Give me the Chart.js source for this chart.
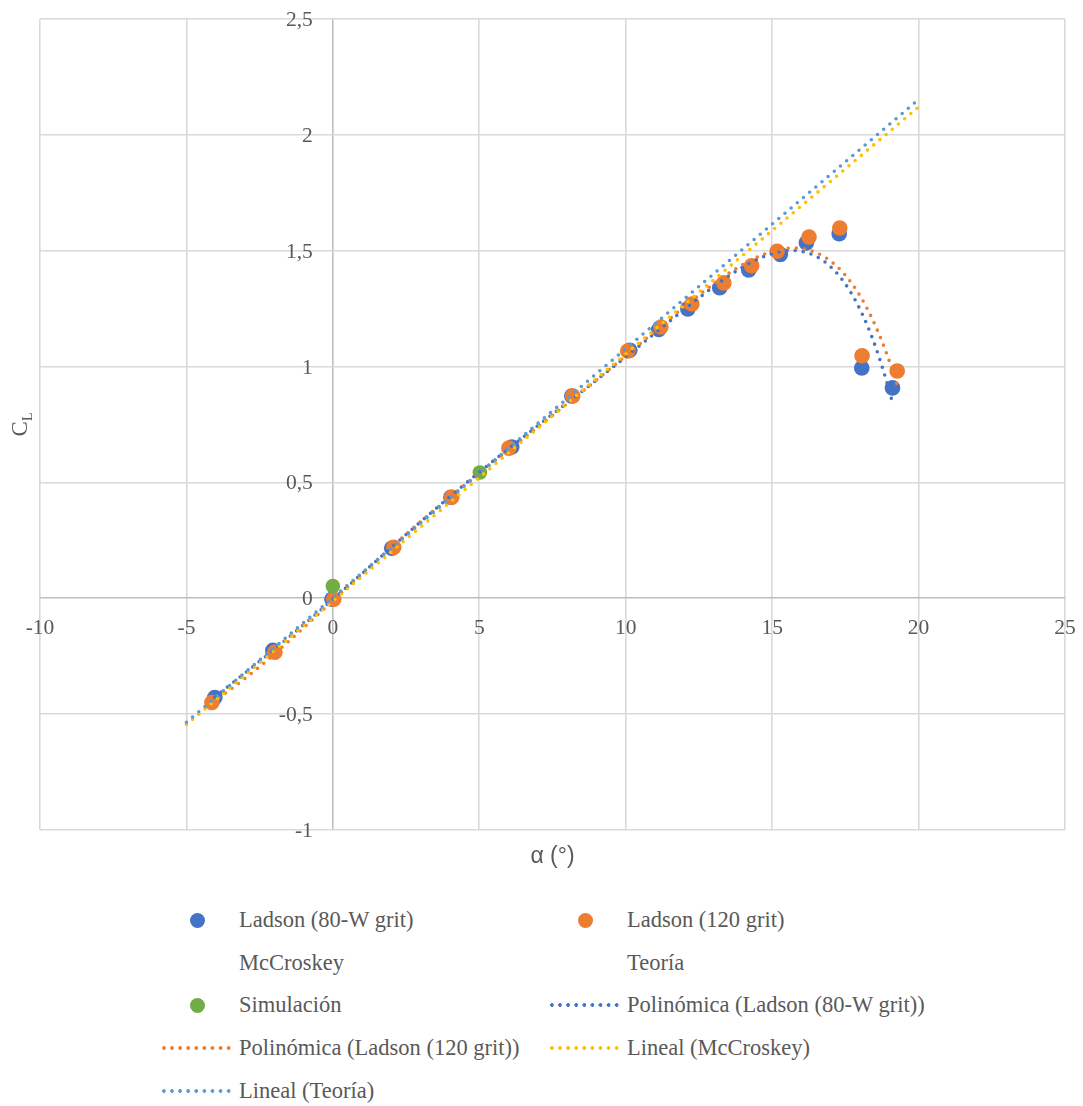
<!DOCTYPE html>
<html lang="es">
<head>
<meta charset="utf-8">
<title>Coeficiente de sustentación</title>
<script src="https://cdn.jsdelivr.net/npm/chart.js@4/dist/chart.umd.min.js"></script>
<style>
  html, body { margin: 0; padding: 0; background: #ffffff; }
  #wrap { position: relative; width: 1083px; height: 1106px; }
  #plot { position: absolute; left: 0; top: 0; width: 1083px; height: 880px; }
  .item { position: absolute; height: 42px; display: flex; align-items: center;
          font-family: "Liberation Serif", "Times New Roman", serif; font-size: 22.5px; color: #595959; white-space: nowrap; }
  .sym { width: 75px; height: 42px; position: relative; margin-right: 4px; flex: none; }
  .dot { position: absolute; width: 15px; height: 15px; border-radius: 50%; left: 30px; top: 13.5px; }
  .dash { position: absolute; left: 2px; top: 19px; width: 70px; height: 4px; background-size: 8.1px 4px; background-repeat: repeat-x; }
</style>
</head>
<body>
<div id="wrap">
  <div id="plot"><canvas id="cl"></canvas></div>
  <div id="legend"></div>
</div>
<script>
// Angle of attack (deg) and lift coefficient, Ladson 80-W grit
const ladson80X = [-4.03, -2.05, -0.03, 2.01, 4.03, 6.11, 8.16, 10.14, 11.13, 12.12, 13.21, 14.20, 15.28, 16.17, 17.29, 18.06, 19.11];
const ladson80Y = [-0.428, -0.225, -0.004, 0.216, 0.436, 0.653, 0.873, 1.070, 1.160, 1.249, 1.340, 1.417, 1.484, 1.534, 1.573, 0.994, 0.908];
// Ladson 120 grit
const ladson120X = [-4.13, -1.98, 0.03, 2.08, 4.06, 6.01, 8.19, 10.07, 11.20, 12.26, 13.35, 14.30, 15.17, 16.26, 17.31, 18.07, 19.27];
const ladson120Y = [-0.450, -0.233, -0.004, 0.220, 0.436, 0.648, 0.873, 1.067, 1.171, 1.270, 1.361, 1.435, 1.498, 1.559, 1.598, 1.047, 0.981];
// McCroskey correlation
const mccroskeyX = [-5, 0, 5, 10, 15, 20];
const mccroskeyY = [-0.545, -0.012, 0.521, 1.054, 1.587, 2.120];
// Thin airfoil theory
const teoriaX = [-5, 0, 5, 10, 15, 20];
const teoriaY = [-0.535, 0.002, 0.540, 1.077, 1.615, 2.152];
// CFD simulation
const simX = [0, 5.02];
const simY = [0.053, 0.543];

const xTicks = [-10, -5, 0, 5, 10, 15, 20, 25];
const yTicks = [-1, -0.5, 0, 0.5, 1, 1.5, 2, 2.5];

const BLUE = '#4472C4', ORANGE = '#ED7D31', GREEN = '#70AD47', GOLD = '#FFC000', SKY = '#5B9BD5';
const TEXT = '#595959';
const POLY_ORDER = 6;

function pts(xs, ys) { return xs.map((x, i) => ({ x, y: ys[i] })); }

// least-squares polynomial fit (x scaled by 1/20 for conditioning)
function polyFit(xs, ys, order) {
  const n = order + 1, s = 20;
  const A = Array.from({ length: n }, () => new Array(n + 1).fill(0));
  xs.forEach((xv, k) => {
    const t = xv / s;
    for (let i = 0; i < n; i++) {
      for (let j = 0; j < n; j++) A[i][j] += Math.pow(t, i + j);
      A[i][n] += ys[k] * Math.pow(t, i);
    }
  });
  for (let c = 0; c < n; c++) {
    let p = c;
    for (let r = c + 1; r < n; r++) if (Math.abs(A[r][c]) > Math.abs(A[p][c])) p = r;
    [A[c], A[p]] = [A[p], A[c]];
    for (let r = 0; r < n; r++) {
      if (r === c) continue;
      const f = A[r][c] / A[c][c];
      for (let k = c; k <= n; k++) A[r][k] -= f * A[c][k];
    }
  }
  const coef = A.map((row, i) => row[n] / row[i]);
  return x => coef.reduce((acc, c, i) => acc + c * Math.pow(x / s, i), 0);
}

function curve(xs, fn, steps) {
  const lo = Math.min(...xs), hi = Math.max(...xs);
  const out = [];
  for (let i = 0; i <= steps; i++) {
    const x = lo + (hi - lo) * i / steps;
    out.push({ x, y: fn(x) });
  }
  return out;
}

const trendStyle = (color, order) => ({
  showLine: true, pointRadius: 0, pointHoverRadius: 0, borderColor: color, borderWidth: 3.6,
  borderDash: [0, 8.1], borderCapStyle: 'round', fill: false, tension: 0, order
});

const datasets = [
  { label: 'Ladson (80-W grit)', data: pts(ladson80X, ladson80Y), backgroundColor: BLUE, borderWidth: 0, pointRadius: 7.8, order: 9 },
  { label: 'Ladson (120 grit)', data: pts(ladson120X, ladson120Y), backgroundColor: ORANGE, borderWidth: 0, pointRadius: 7.8, order: 8 },
  { label: 'McCroskey', data: pts(mccroskeyX, mccroskeyY), pointRadius: 0, borderWidth: 0, order: 7 },
  { label: 'Teoría', data: pts(teoriaX, teoriaY), pointRadius: 0, borderWidth: 0, order: 7 },
  { label: 'Simulación', data: pts(simX, simY), backgroundColor: GREEN, borderWidth: 0, pointRadius: 7.3, order: 6 },
  Object.assign({ label: 'Polinómica (Ladson (80-W grit))', data: curve(ladson80X, polyFit(ladson80X, ladson80Y, POLY_ORDER), 400) }, trendStyle(BLUE, 4)),
  Object.assign({ label: 'Polinómica (Ladson (120 grit))', data: curve(ladson120X, polyFit(ladson120X, ladson120Y, POLY_ORDER), 400) }, trendStyle(ORANGE, 3)),
  Object.assign({ label: 'Lineal (McCroskey)', data: curve(mccroskeyX, polyFit(mccroskeyX, mccroskeyY, 1), 1) }, trendStyle(GOLD, 2)),
  Object.assign({ label: 'Lineal (Teoría)', data: curve(teoriaX, polyFit(teoriaX, teoriaY, 1), 1) }, trendStyle(SKY, 1))
];

const fmt = v => String(v).replace('.', ',');

// tick labels sit on the axes crossing at the origin; axis titles at the plot edges
const axisText = {
  id: 'axisText',
  afterDraw(chart) {
    const { ctx, chartArea, scales: { x, y } } = chart;
    const x0 = x.getPixelForValue(0), y0 = y.getPixelForValue(0);
    ctx.save();
    ctx.fillStyle = TEXT;
    ctx.font = '21.5px "Liberation Serif", serif';
    ctx.textBaseline = 'alphabetic';
    ctx.textAlign = 'center';
    xTicks.forEach(v => ctx.fillText(fmt(v), x.getPixelForValue(v), y0 + 36));
    ctx.textAlign = 'right';
    yTicks.forEach(v => ctx.fillText(fmt(v), x0 - 20, y.getPixelForValue(v) + 7));

    // horizontal title
    ctx.textAlign = 'center';
    ctx.font = '23px "Liberation Sans", sans-serif';
    ctx.fillText('α (°)', (chartArea.left + chartArea.right) / 2, chartArea.bottom + 33);

    // vertical title C with subscript L
    const midY = (chartArea.top + chartArea.bottom) / 2;
    ctx.font = '23px "Liberation Serif", serif';
    const wC = ctx.measureText('C').width;
    ctx.font = '14px "Liberation Serif", serif';
    const wL = ctx.measureText('L').width;
    ctx.translate(27, midY + (wC + wL) / 2);
    ctx.rotate(-Math.PI / 2);
    ctx.textAlign = 'left';
    ctx.font = '23px "Liberation Serif", serif';
    ctx.fillText('C', 0, 0);
    ctx.font = '14px "Liberation Serif", serif';
    ctx.fillText('L', wC, 5);
    ctx.restore();
  }
};

const gridColor = c => (c.tick && c.tick.value === 0 ? '#bfbfbf' : '#d9d9d9');

const chart = new Chart(document.getElementById('cl'), {
  type: 'scatter',
  data: { datasets },
  options: {
    responsive: true,
    maintainAspectRatio: false,
    animation: false,
    events: [],
    layout: { padding: { left: 40, top: 19, right: 18, bottom: 50 } },
    plugins: { legend: { display: false }, tooltip: { enabled: false } },
    scales: {
      x: {
        type: 'linear', min: -10, max: 25,
        afterBuildTicks: s => { s.ticks = xTicks.map(v => ({ value: v })); },
        ticks: { display: false },
        border: { display: false },
        grid: { color: gridColor, lineWidth: 1.6, drawTicks: false }
      },
      y: {
        type: 'linear', min: -1, max: 2.5,
        afterBuildTicks: s => { s.ticks = yTicks.map(v => ({ value: v })); },
        ticks: { display: false },
        border: { display: false },
        grid: { color: gridColor, lineWidth: 1.6, drawTicks: false }
      }
    }
  },
  plugins: [axisText]
});

// two-column legend below the plot
const legendEl = document.getElementById('legend');
const markerColor = { 0: BLUE, 1: ORANGE, 4: GREEN };
const colLeft = [160, 548];
const rowTop = [899, 942, 984, 1027, 1070];
datasets.forEach((ds, i) => {
  const item = document.createElement('div');
  item.className = 'item';
  item.style.left = colLeft[i % 2] + 'px';
  item.style.top = rowTop[Math.floor(i / 2)] + 'px';
  const sym = document.createElement('span');
  sym.className = 'sym';
  if (markerColor[i]) {
    const d = document.createElement('span');
    d.className = 'dot';
    d.style.background = markerColor[i];
    sym.appendChild(d);
  } else if (ds.showLine) {
    const d = document.createElement('span');
    d.className = 'dash';
    d.style.backgroundImage = `radial-gradient(circle at 2px 2px, ${ds.borderColor} 1.6px, rgba(255,255,255,0) 2.1px)`;
    sym.appendChild(d);
  }
  const txt = document.createElement('span');
  txt.textContent = ds.label;
  item.appendChild(sym);
  item.appendChild(txt);
  legendEl.appendChild(item);
});
</script>
</body>
</html>
